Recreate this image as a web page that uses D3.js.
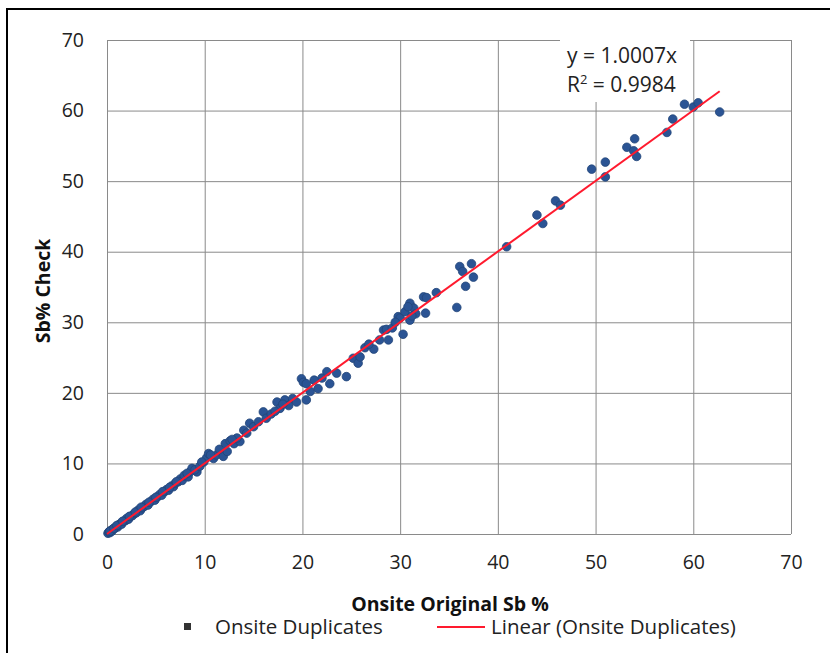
<!DOCTYPE html>
<html>
<head>
<meta charset="utf-8">
<script src="https://cdnjs.cloudflare.com/ajax/libs/d3/7.8.5/d3.min.js"></script>
<style>
  body { margin: 0; background: #fff; }
  svg { display: block; font-family: "Open Sans", Lato, sans-serif; }
</style>
</head>
<body>
<div id="chart"></div>
<script>
// Onsite duplicates: original Sb % vs check Sb %
const origSb = [
  0.1, 0.2, 0.3, 0.4, 0.5, 0.6, 0.8, 0.9, 1.1, 1.2, 1.4, 1.5, 1.7, 1.9, 2.0, 2.2, 2.4, 2.6, 2.8, 3.0,
  3.2, 3.4, 3.6, 3.8, 4.0, 4.2, 4.5, 4.7, 4.9, 5.2, 5.4, 5.6, 5.9, 6.1, 6.3, 6.6, 6.8, 7.0, 7.3, 7.5,
  7.7, 8.0, 8.3, 8.5, 8.7, 9.2, 9.0, 9.5, 9.9, 10.2, 10.4, 10.9, 11.2, 11.9, 12.1, 12.3, 12.6, 13.0, 13.6, 13.3,
  14.0, 14.3, 14.6, 15.0, 16.0, 16.3, 16.8, 17.4, 17.7, 17.2, 18.2, 18.6, 19.0, 19.4, 19.9, 20.1, 20.4, 20.4, 20.8, 21.6,
  22.0, 22.5, 22.8, 23.5, 24.5, 25.2, 25.7, 25.9, 26.4, 27.3, 27.9, 28.3, 28.8, 28.6, 29.2, 29.8, 30.0, 30.3, 30.5, 31.0,
  31.0, 31.0, 31.4, 31.6, 32.4, 32.6, 32.7, 33.7, 35.8, 36.1, 36.4, 36.7, 37.3, 37.5, 40.9, 44.0, 44.6, 45.9, 46.4, 49.6,
  51.0, 51.0, 53.2, 53.9, 54.0, 54.2, 57.3, 57.9, 59.1, 60.0, 60.5, 62.7,
  0.3, 0.7, 1.0, 1.6, 2.3, 2.9, 3.5, 4.3, 5.0, 5.7, 6.4, 7.1, 7.9, 8.2, 9.7, 10.6, 11.5, 12.8, 15.5, 18.0,
  21.2, 26.8, 29.5, 30.8, 31.2
];
const checkSb = [
  0.1, 0.3, 0.2, 0.5, 0.4, 0.7, 0.8, 1.0, 1.0, 1.3, 1.5, 1.4, 1.8, 1.9, 2.2, 2.1, 2.5, 2.6, 2.9, 3.0,
  3.4, 3.3, 3.7, 3.9, 4.2, 4.1, 4.6, 4.9, 4.8, 5.3, 5.6, 5.5, 6.0, 6.3, 6.2, 6.8, 6.7, 7.2, 7.4, 7.8,
  7.6, 8.2, 8.1, 8.8, 9.3, 8.8, 9.1, 9.6, 10.2, 10.8, 11.4, 10.7, 11.2, 11.0, 12.8, 11.7, 13.2, 12.8, 13.1, 13.6,
  14.7, 14.3, 15.7, 15.2, 17.3, 16.4, 17.0, 18.7, 17.8, 17.4, 19.0, 18.2, 19.2, 18.7, 22.0, 21.5, 19.0, 21.3, 20.2, 20.6,
  22.1, 23.0, 21.3, 22.8, 22.3, 24.9, 24.2, 25.1, 26.4, 26.2, 27.5, 28.9, 27.5, 29.0, 29.2, 30.8, 30.6, 28.3, 31.5, 32.4,
  30.3, 32.7, 32.0, 31.2, 33.6, 31.3, 33.5, 34.2, 32.1, 37.9, 37.2, 35.1, 38.3, 36.4, 40.7, 45.2, 44.0, 47.2, 46.6, 51.7,
  52.7, 50.6, 54.8, 54.3, 56.0, 53.5, 56.9, 58.8, 60.9, 60.5, 61.1, 59.8,
  0.4, 0.8, 1.2, 1.8, 2.5, 3.1, 3.8, 4.5, 5.2, 6.0, 6.6, 7.4, 8.3, 8.6, 10.2, 11.2, 12.0, 13.4, 15.9, 18.4,
  21.8, 26.9, 30.0, 32.2, 30.9
];
const axisTicks = [0, 10, 20, 30, 40, 50, 60, 70];
const trendSlope = 1.0007;
const trendR2 = 0.9984;
const seriesName = "Onsite Duplicates";
const trendName = "Linear (Onsite Duplicates)";

const W = 830, H = 653;
const plot = { left: 107, right: 791, top: 40, bottom: 534 };
const fontSize = 19.5;
const labelSize = 21;

const svg = d3.select("#chart").append("svg")
  .attr("width", W)
  .attr("height", H);

// outer frame
svg.append("rect")
  .attr("x", 7).attr("y", 9)
  .attr("width", W + 20).attr("height", H + 20)
  .attr("fill", "#fff")
  .attr("stroke", "#000")
  .attr("stroke-width", 2);

const x = d3.scaleLinear().domain([0, 70]).range([plot.left, plot.right]);
const y = d3.scaleLinear().domain([0, 70]).range([plot.bottom, plot.top]);

const gridColor = "#8a8a8a";

// gridlines
svg.append("g")
  .attr("transform", `translate(0, ${plot.bottom})`)
  .call(d3.axisBottom(x).tickValues(axisTicks).tickSize(-(plot.bottom - plot.top)).tickFormat(""))
  .call(g => g.select(".domain").remove())
  .call(g => g.selectAll("line").attr("stroke", gridColor));

svg.append("g")
  .attr("transform", `translate(${plot.left}, 0)`)
  .call(d3.axisLeft(y).tickValues(axisTicks).tickSize(-(plot.right - plot.left)).tickFormat(""))
  .call(g => g.select(".domain").remove())
  .call(g => g.selectAll("line").attr("stroke", gridColor));

// tick labels
svg.append("g")
  .attr("transform", `translate(0, ${plot.bottom})`)
  .call(d3.axisBottom(x).tickValues(axisTicks).tickSize(0).tickPadding(21))
  .call(g => g.select(".domain").remove())
  .call(g => g.selectAll("text")
    .attr("font-family", "'Open Sans', Lato, sans-serif")
    .attr("font-size", fontSize)
    .attr("fill", "#222"));

svg.append("g")
  .attr("transform", `translate(${plot.left}, 0)`)
  .call(d3.axisLeft(y).tickValues(axisTicks).tickSize(0).tickPadding(23))
  .call(g => g.select(".domain").remove())
  .call(g => g.selectAll("text")
    .attr("font-family", "'Open Sans', Lato, sans-serif")
    .attr("font-size", fontSize)
    .attr("fill", "#222"));

// equation box
svg.append("rect")
  .attr("x", 560).attr("y", 36)
  .attr("width", 130).attr("height", 66)
  .attr("fill", "#fff");

svg.append("text")
  .attr("x", 567).attr("y", 63)
  .attr("font-size", labelSize).attr("fill", "#222")
  .text(`y = ${trendSlope.toFixed(4)}x`);

const r2 = svg.append("text")
  .attr("x", 567).attr("y", 92)
  .attr("font-size", labelSize).attr("fill", "#222");
r2.append("tspan").text("R");
r2.append("tspan").attr("font-size", 13).attr("dy", -8).text("2");
r2.append("tspan").attr("dy", 8).text(` = ${trendR2}`);

// points
const pts = origSb.map((v, i) => ({ x: v, y: checkSb[i] }));

svg.append("g").selectAll("circle")
  .data(pts)
  .enter().append("circle")
  .attr("cx", d => x(d.x))
  .attr("cy", d => y(d.y))
  .attr("r", 4.3)
  .attr("fill", "#2B5494")
  .attr("stroke", "#224579")
  .attr("stroke-width", 0.8);

// linear trendline through origin
const xMax = d3.max(origSb);
svg.append("line")
  .attr("x1", x(0)).attr("y1", y(0))
  .attr("x2", x(xMax)).attr("y2", y(xMax * trendSlope))
  .attr("stroke", "#FF1A2E")
  .attr("stroke-width", 2);

// axis titles
svg.append("text")
  .attr("x", 450).attr("y", 611)
  .attr("text-anchor", "middle")
  .attr("font-size", fontSize).attr("font-weight", "bold").attr("fill", "#111")
  .text("Onsite Original Sb %");

svg.append("text")
  .attr("transform", `translate(50, 291) rotate(-90)`)
  .attr("text-anchor", "middle")
  .attr("font-size", fontSize).attr("font-weight", "bold").attr("fill", "#111")
  .text("Sb% Check");

// legend
svg.append("rect")
  .attr("x", 184).attr("y", 623)
  .attr("width", 7).attr("height", 7)
  .attr("fill", "#333");

svg.append("text")
  .attr("x", 215).attr("y", 634)
  .attr("font-size", labelSize - 0.5).attr("fill", "#222")
  .text(seriesName);

svg.append("line")
  .attr("x1", 437).attr("x2", 485)
  .attr("y1", 627).attr("y2", 627)
  .attr("stroke", "#FF1A2E")
  .attr("stroke-width", 2);

svg.append("text")
  .attr("x", 491).attr("y", 634)
  .attr("font-size", labelSize - 0.5).attr("fill", "#222")
  .text(trendName);
</script>
</body>
</html>
